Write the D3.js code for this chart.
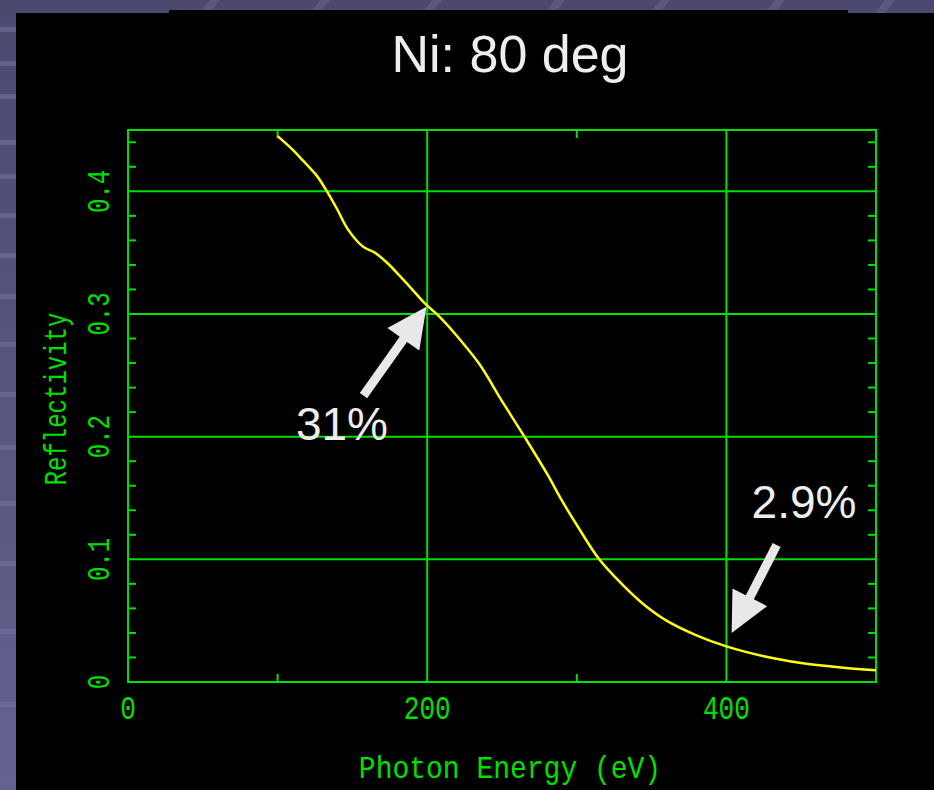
<!DOCTYPE html>
<html>
<head>
<meta charset="utf-8">
<script src="https://cdn.jsdelivr.net/npm/d3@7"></script>
<style>
  body { margin: 0; background: #000; }
  svg { display: block; }
</style>
</head>
<body>
<div id="wrapper"></div>
<script>
const w = 934
const h = 790

// curve: photon energy (eV) vs reflectivity
const energy = [100, 110, 117, 126, 132, 140, 147, 157, 165, 173, 184, 199, 208, 222, 235,
  250, 265, 280, 290, 300, 315, 330, 345, 360, 380, 400, 425, 450, 475, 500]
const reflectivity = [0.445, 0.434, 0.425, 0.413, 0.402, 0.385, 0.369, 0.355, 0.350, 0.342,
  0.328, 0.308, 0.298, 0.279, 0.259, 0.229, 0.200, 0.170, 0.148, 0.128, 0.100, 0.080,
  0.063, 0.050, 0.038, 0.029, 0.021, 0.0155, 0.012, 0.0095]

const xTicks = [0, 200, 400]
const xMinor = [100, 300]
const yTicks = [0, 0.1, 0.2, 0.3, 0.4]
const yMinor = [0.02, 0.04, 0.06, 0.08, 0.12, 0.14, 0.16, 0.18, 0.22, 0.24, 0.26, 0.28,
  0.32, 0.34, 0.36, 0.38, 0.42, 0.44]

// callouts: label, point the arrow tip sits on
const noteLabels = ['31%', '2.9%']
const noteEnergy = [199.5, 403.5]
const noteRefl = [0.306, 0.040]

const green = '#00e000'

const svg = d3.select('#wrapper').append('svg')
  .attr('width', w)
  .attr('height', h)

// slide background
const defs = svg.append('defs')
const grad = defs.append('linearGradient').attr('id', 'bg')
  .attr('x1', 0).attr('y1', 0).attr('x2', 0).attr('y2', 1)
grad.append('stop').attr('offset', 0).attr('stop-color', '#4b4970')
grad.append('stop').attr('offset', 1).attr('stop-color', '#64628f')
svg.append('rect').attr('width', w).attr('height', h).attr('fill', 'url(#bg)')

// faint stripes on the left border
const stripeY = [30, 64, 97, 143, 177, 216, 256, 297, 345, 395, 448, 504, 564, 632, 705]
svg.selectAll('.stripe').data(stripeY).enter().append('rect')
  .attr('x', 0).attr('y', d => d - 3).attr('width', 16).attr('height', 5)
  .attr('fill', '#7472a0').attr('opacity', 0.55)
// diagonal streaks on the top border
const streakX = [210, 320, 432, 555, 660, 775, 885]
svg.selectAll('.streak').data(streakX).enter().append('path')
  .attr('d', d => `M${d},0 L${d + 10},0 L${d},13 L${d - 10},13 Z`)
  .attr('fill', '#64628c').attr('opacity', 0.6)

// black slide area
svg.append('path')
  .attr('d', 'M16,13 L169,13 L169,10 L848,10 L848,13 L934,13 L934,790 L16,790 Z')
  .attr('fill', '#000')

// title
svg.append('text')
  .attr('x', 510).attr('y', 72)
  .attr('text-anchor', 'middle')
  .style('font-family', '"Liberation Sans", Arial, sans-serif')
  .style('font-size', '52px')
  .style('fill', '#eeeeee')
  .text('Ni: 80 deg')

const x = d3.scaleLinear().domain([0, 500]).range([128, 876])
const y = d3.scaleLinear().domain([0, 0.45]).range([682, 130])

const plot = svg.append('g')

// grid lines
plot.selectAll('.vgrid').data(xTicks.slice(1)).enter().append('line')
  .attr('x1', d => x(d)).attr('x2', d => x(d))
  .attr('y1', y(0)).attr('y2', y(0.45))
  .attr('stroke', green).attr('stroke-width', 2)
plot.selectAll('.hgrid').data(yTicks.slice(1)).enter().append('line')
  .attr('x1', x(0)).attr('x2', x(500))
  .attr('y1', d => y(d)).attr('y2', d => y(d))
  .attr('stroke', green).attr('stroke-width', 2)

// minor ticks, all four sides
const tl = 8
plot.selectAll('.xminB').data(xMinor).enter().append('line')
  .attr('x1', d => x(d)).attr('x2', d => x(d))
  .attr('y1', y(0)).attr('y2', y(0) - tl)
  .attr('stroke', green).attr('stroke-width', 2)
plot.selectAll('.xminT').data(xMinor).enter().append('line')
  .attr('x1', d => x(d)).attr('x2', d => x(d))
  .attr('y1', y(0.45)).attr('y2', y(0.45) + tl)
  .attr('stroke', green).attr('stroke-width', 2)
plot.selectAll('.yminL').data(yMinor).enter().append('line')
  .attr('x1', x(0)).attr('x2', x(0) + tl)
  .attr('y1', d => y(d)).attr('y2', d => y(d))
  .attr('stroke', green).attr('stroke-width', 2)
plot.selectAll('.yminR').data(yMinor).enter().append('line')
  .attr('x1', x(500)).attr('x2', x(500) - tl)
  .attr('y1', d => y(d)).attr('y2', d => y(d))
  .attr('stroke', green).attr('stroke-width', 2)

// frame
plot.append('rect')
  .attr('x', x(0)).attr('y', y(0.45))
  .attr('width', x(500) - x(0)).attr('height', y(0) - y(0.45))
  .attr('fill', 'none').attr('stroke', green).attr('stroke-width', 2)

// tick labels
const mono = '"Liberation Mono", "DejaVu Sans Mono", monospace'
plot.selectAll('.xlab').data(xTicks).enter().append('text')
  .attr('transform', d => `translate(${x(d)},719) scale(1,1.3)`)
  .attr('text-anchor', 'middle')
  .style('font-family', mono).style('font-size', '26px').style('fill', green)
  .text(d => String(d))
plot.selectAll('.ylab').data(yTicks).enter().append('text')
  .attr('transform', d => `translate(109,${y(d)}) rotate(-90) scale(1,1.3)`)
  .attr('text-anchor', 'middle')
  .style('font-family', mono).style('font-size', '24px').style('fill', green)
  .text(d => String(d))

// axis titles
svg.append('text')
  .attr('transform', 'translate(510,778) scale(1,1.15)')
  .attr('text-anchor', 'middle')
  .style('font-family', mono).style('font-size', '28px').style('fill', green)
  .text('Photon Energy (eV)')
svg.append('text')
  .attr('transform', 'translate(66,399) rotate(-90) scale(1,1.3)')
  .attr('text-anchor', 'middle')
  .style('font-family', mono).style('font-size', '24px').style('fill', green)
  .text('Reflectivity')

// reflectivity curve
const points = energy.map((e, i) => [e, reflectivity[i]])
const line = d3.line()
  .x(d => x(d[0]))
  .y(d => y(d[1]))
  .curve(d3.curveCatmullRom.alpha(0.5))
plot.append('path')
  .datum(points)
  .attr('d', line)
  .attr('fill', 'none')
  .attr('stroke', '#ffff10')
  .attr('stroke-width', 2.5)

// callout arrows: tail offset from the tip, and label position, in px
const tailOffsets = [[-63, 89], [45, -88]]
const labelPos = [[342, 440], [804, 518]]

function arrowPath(tip, tail) {
  const dx = tail[0] - tip[0], dy = tail[1] - tip[1]
  const len = Math.sqrt(dx * dx + dy * dy)
  const ux = dx / len, uy = dy / len
  const px = -uy, py = ux
  const headLen = 40, headHalf = 19.5, shaftHalf = 4.5
  const bx = tip[0] + ux * headLen, by = tip[1] + uy * headLen
  const pts = [
    tip,
    [bx + px * headHalf, by + py * headHalf],
    [bx + px * shaftHalf, by + py * shaftHalf],
    [tail[0] + px * shaftHalf, tail[1] + py * shaftHalf],
    [tail[0] - px * shaftHalf, tail[1] - py * shaftHalf],
    [bx - px * shaftHalf, by - py * shaftHalf],
    [bx - px * headHalf, by - py * headHalf]
  ]
  return 'M' + pts.map(p => p.join(',')).join('L') + 'Z'
}

noteLabels.forEach((label, i) => {
  const tip = [x(noteEnergy[i]), y(noteRefl[i])]
  const tail = [tip[0] + tailOffsets[i][0], tip[1] + tailOffsets[i][1]]
  svg.append('path')
    .attr('d', arrowPath(tip, tail))
    .attr('fill', '#e8e8e8')
  svg.append('text')
    .attr('x', labelPos[i][0]).attr('y', labelPos[i][1])
    .attr('text-anchor', 'middle')
    .style('font-family', '"Liberation Sans", Arial, sans-serif')
    .style('font-size', '46px')
    .style('fill', '#eeeeee')
    .text(label)
})
</script>
</body>
</html>
